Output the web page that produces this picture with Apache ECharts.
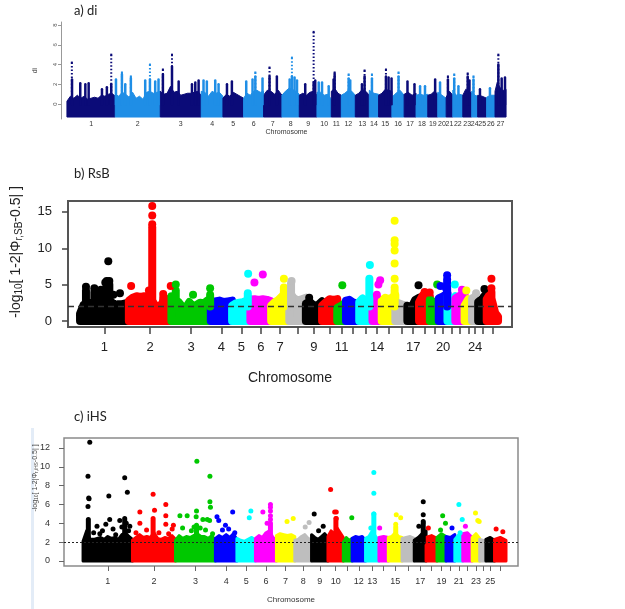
<!DOCTYPE html>
<html><head><meta charset="utf-8">
<script src="https://cdn.jsdelivr.net/npm/echarts@6/dist/echarts.min.js"></script>
<style>html,body{margin:0;padding:0;background:#fff}#c{width:625px;height:609px}</style>
</head><body><div id="c"></div>
<script>
// ---------- DATA ----------
// panel a) di
const chrNamesA = ['1','2','3','4','5','6','7','8','9','10','11','12','13','14','15','16','17','18','19','20','21','22','23','24','25','26','27'];
const chrLenA = [276,257,234,124,118,114,105,99,101,82,57,80,80,53,76,70,68,67,57,48,38,57,51,34,51,48,63];
// dense-cloud top per chromosome (evenly spaced along it)
const envA = [
  [0.3,0.8,0.6,0.9,0.6,0.8,0.5,0.6,0.7,0.6,0.9,0.8,1.0,1.1,0.8],
  [1.0,0.8,1.2,1.0,0.7,1.2,0.6,0.8,0.5,1.2,1.3,1.1,1.2,1.3],
  [1.3,1.0,1.1,1.8,1.2,1.3,0.9,1.0,1.1,1.1,1.2,1.3,0.9],
  [1.3,1.2,0.8,1.3,1.1,1.2,0.8],
  [0.6,1.0,0.8,1.2,1.0,0.8,0.6],
  [0.6,1.1,0.9,1.3,1.4,1.2,1.3],
  [0.9,1.4,1.3,1.0,1.4,0.9],
  [0.9,1.3,1.6,1.5,1.3,1.0],
  [0.9,1.1,0.9,1.2,1.3,0.9],
  [1.2,1.2,0.9,1.0,0.5],
  [1.3,1.6,1.1,0.9],
  [0.9,1.1,1.4,1.3,0.9],
  [0.9,1.1,1.5,1.3,0.9],
  [1.4,1.1,1.0],
  [0.9,1.1,1.5,1.4,1.3],
  [0.7,1.1,1.4,0.9],
  [1.0,1.2,0.9,1.1],
  [0.9,1.0,0.9,1.0],
  [0.9,1.0,1.3,1.0],
  [1.2,0.9,0.6],
  [0.7,1.3,0.9],
  [1.4,0.9,1.0,0.9],
  [0.9,1.5,1.3,1.1],
  [1.3,0.9,0.8],
  [0.9,0.8,0.6],
  [0.7,0.9,0.9],
  [1.3,2.2,1.8,1.4,1.4,1.5]
];
const floorA = -1.3;
// dense spikes [chromosome, position, top]
const spikesA = [[1,29,2.5],[1,76,2.1],[1,105,2.0],[1,124,2.1],[1,200,1.5],[1,228,1.7],[1,253,2.0],
  [2,4,2.5],[2,38,3.0],[2,57,2.0],[2,89,2.6],[2,171,2.4],[2,198,2.5],[2,228,2.3],[2,247,2.5],
  [3,15,3.0],[3,67,3.8],[3,105,2.3],[3,181,2.0],[3,200,2.2],[3,219,2.4],
  [4,13,2.4],[4,32,2.3],[4,80,2.4],[4,99,2.0],[5,23,2.0],[5,51,2.3],
  [6,15,2.3],[6,51,2.5],[6,67,2.8],[6,108,2.6],[7,34,2.8],[7,76,2.8],
  [8,44,2.5],[8,57,2.8],[8,72,2.7],[8,86,2.4],[9,34,2.0],[9,82,2.2],[9,91,2.4],
  [10,10,2.2],[10,29,2.2],[10,67,1.8],[11,13,2.5],[11,19,3.0],[12,42,2.6],[12,51,2.4],
  [13,38,2.0],[13,53,2.8],[14,15,2.6],[15,42,2.8],[15,57,2.7],[15,74,2.6],[16,38,2.8],
  [17,19,2.3],[17,59,2.0],[18,23,1.8],[18,51,1.8],[19,42,2.5],[20,13,2.2],[21,10,2.5],
  [22,8,2.6],[22,32,1.8],[23,28,2.8],[23,38,2.4],[24,10,2.5],[25,13,1.5],[26,19,1.6],
  [27,19,4.0],[27,38,2.6],[27,57,2.7]];
// sparse outliers [chromosome, position, di]
const peaksA = [[1,28,4.2],[1,253,5.0],[2,38,3.2],[2,89,2.8],[2,198,4.0],[3,15,3.5],[3,67,5.0],[6,67,3.2],[7,34,3.7],[8,57,4.7],[9,82,7.3],[11,19,3.2],[12,42,3.0],[13,53,3.4],[14,15,3.0],[15,42,3.5],[16,38,3.2],[21,10,2.8],[22,8,3.0],[23,28,3.1],[24,10,2.8],[27,19,5.0]];
const yTicksA = [0,2,4,6,8];

// panels b) RsB and c) iHS : chromosomes 1-26
const chrNamesBC = ['1','2','3','4','5','6','7','8','9','10','11','12','13','14','15','16','17','18','19','20','21','22','23','24','25','26'];
const chrLenBC = [280,244,226,122,105,119,104,95,93,87,50,76,76,53,78,69,67,62,51,50,45,53,43,35,49,65];

const envB = [
  [1.0,2.2,2.5,2.4,2.6,2.5,2.6,2.5,2.8,2.6,2.2,2.3,2.3,2.4,2.5],
  [2.8,3.2,3.4,3.3,3.4,2.6,2.8,2.0,1.9,2.8,3.0,2.2],
  [3.4,2.8,2.6,2.0,1.8,2.6,2.0,2.2,2.5,2.4,2.8,2.6],
  [2.4,2.7,2.8,2.6,2.7,2.8],
  [2.1,2.4,2.5,2.6,2.8,3.0],
  [2.9,3.0,2.9,3.0,2.9,2.7],
  [2.1,2.6,2.9,3.4,3.6,3.4],
  [4.0,3.2,2.8,3.0,3.2],
  [2.4,2.6,2.1,2.2,2.7],
  [2.1,2.6,3.0,2.9,3.0],
  [1.8,2.1,2.6],
  [2.8,2.9,2.6,2.4,2.2],
  [2.6,3.1,2.6,3.2,3.2],
  [2.6,3.0,3.0,2.8],
  [2.8,3.2,3.0,3.2,3.6],
  [2.6,2.4,2.2,2.1],
  [2.1,1.8,2.9,3.2],
  [2.6,3.5,3.1,3.4],
  [2.9,2.6,2.4],
  [3.1,3.4,3.8],
  [3.4,2.6,3.4],
  [3.1,3.5,3.8],
  [2.1,3.0,2.6],
  [3.1,3.3,2.6],
  [2.6,3.1,3.8],
  [3.0,3.6,2.6,1.1,0.6]
];
const spikesB = [[1,34,4.2],[1,82,4.0],[1,120,3.8],[1,153,5.0],[1,168,5.0],[2,134,12.9],[2,115,3.6],[2,197,3.2],
  [3,25,4.2],[3,222,3.6],[5,90,3.8],[7,73,4.6],[8,10,5.2],[13,58,5.8],[15,74,4.2],[20,48,5.3],[26,27,4.0]];
const outB = [[1,162,8.2],[1,153,5.5],[1,168,5.5],[1,145,5.3],[1,191,3.6],[1,229,3.8],[1,34,4.7],[1,82,4.5],[1,120,4.3],
  [2,13,4.8],[2,134,15.8],[2,134,14.5],[2,134,13.3],[2,115,4.2],[2,197,3.7],[2,240,4.8],
  [3,25,5.0],[3,124,3.6],[3,222,4.5],[5,92,6.5],[6,23,5.3],[6,71,6.4],[7,73,5.8],[8,13,5.5],[9,19,3.2],[11,29,4.9],
  [13,61,7.7],[14,34,5.0],[14,44,5.6],[14,25,3.6],
  [15,74,13.8],[15,74,11.1],[15,74,10.6],[15,74,9.7],[15,74,7.9],[15,74,5.8],[15,74,4.6],
  [17,64,4.9],[18,32,4.0],[18,61,3.9],[19,42,5.0],[20,10,4.8],[20,48,5.7],[20,48,6.3],[20,42,4.5],
  [21,42,5.0],[22,38,4.3],[23,10,4.2],[24,23,3.8],[25,36,4.4],[26,27,5.8],[26,27,4.5]];
const labelsB = [1,2,3,4,5,6,7,9,11,14,17,20,24];
const yTicksB = [0,5,10,15];
const thresholdB = 2;

const envC = [
  [2.1,3.2,2.3,2.3,2.4,2.5,2.3,2.6,2.4,2.5,2.3,2.8,3.0,2.6,2.3],
  [2.2,2.5,2.8,2.5,2.6,2.5,3.0,2.4,2.3,2.5,2.4,2.7,2.3],
  [2.2,2.7,2.4,2.6,2.5,2.7,2.9,2.6,2.6,2.4,2.7,2.2],
  [2.4,2.7,2.5,2.8,2.5,2.9,2.3],
  [2.4,2.2,2.1,2.3,2.5,2.2],
  [2.4,2.7,2.5,3.0,3.2,2.5,2.2],
  [2.7,2.9,2.8,2.7,2.8,2.6],
  [2.2,2.3,2.6,2.8,2.4,2.2],
  [2.8,2.5,2.3,2.6,2.9,2.5],
  [2.6,3.2,2.9,3.5,3.0,2.5],
  [2.0,2.5,2.2,2.4],
  [2.4,2.6,2.5,2.6,2.2],
  [2.4,2.6,3.2,2.6,2.2],
  [2.5,2.6,2.5],
  [2.5,2.6,3.0,2.6,2.5],
  [2.4,2.5,2.6,2.4],
  [2.2,2.5,2.9,3.2],
  [2.5,2.7,2.4],
  [2.5,2.9,2.6],
  [2.6,2.5,2.8],
  [2.3,2.8,2.5],
  [2.9,3.0,2.5],
  [2.5,2.9,2.4],
  [2.3,2.1],
  [2.3,2.5,2.2],
  [2.3,2.5,2.2]
];
const spikesC = [[1,30,4.4],[1,236,4.5],[2,117,4.3],[3,119,3.8],[6,85,4.0],[10,45,4.5],[13,47,5.0],[15,42,3.6],[17,51,4.0]];
const outC = [[1,38,12.6],[1,28,9.0],[1,32,6.7],[1,34,6.6],[1,28,5.8],[1,146,6.9],[1,236,8.85],[1,251,7.3],[1,79,3.7],[1,129,3.9],[1,151,4.4],[1,208,4.3],[1,265,3.7],
  [1,60,3.0],[1,95,2.9],[1,110,3.2],[1,170,3.4],[1,185,2.8],[1,220,3.6],[1,245,4.0],[1,258,3.2],
  [2,42,5.2],[2,42,4.0],[2,117,7.1],[2,125,5.4],[2,117,4.5],[2,189,6.0],[2,189,4.8],[2,189,3.9],[2,232,3.8],
  [2,20,3.0],[2,80,3.3],[2,150,3.0],[2,205,2.9],[2,225,3.4],
  [3,25,4.8],[3,66,4.8],[3,121,10.6],[3,119,5.3],[3,117,4.7],[3,155,4.4],[3,195,9.0],[3,195,6.3],[3,198,5.7],[3,193,4.3],[3,180,4.4],
  [3,40,3.5],[3,90,3.2],[3,105,3.6],[3,140,3.5],[3,170,3.3],[3,210,2.9],
  [4,9,4.7],[4,19,4.3],[4,98,5.2],[4,57,3.8],[4,40,3.3],[4,75,3.4],[4,110,3.0],[5,79,5.3],[5,70,4.6],
  [6,42,5.2],[6,85,6.0],[6,85,5.7],[6,85,5.3],[6,85,4.8],[6,85,4.4],[6,66,4.0],
  [7,60,4.2],[7,95,4.5],[8,81,4.1],[8,59,3.6],[9,15,5.0],[9,66,3.7],[9,40,3.2],
  [10,15,7.6],[10,38,5.2],[10,47,5.2],[10,47,4.5],[11,48,4.6],
  [13,47,9.4],[13,47,7.2],[13,47,5.0],[13,30,3.5],[14,4,3.5],[15,45,4.9],[15,70,4.6],[15,42,3.9],
  [17,51,6.3],[17,51,4.9],[17,51,4.2],[17,26,3.7],[18,13,3.5],[19,32,4.8],[19,48,4.0],[19,20,3.3],[20,34,3.5],
  [21,23,6.0],[21,42,4.4],[21,30,3.0],[22,15,3.7],[23,19,5.1],[23,32,4.3],[23,40,4.2],[26,9,3.4],[26,47,3.1]];
const labelsC = [1,2,3,4,5,6,7,8,9,10,12,13,15,17,19,21,23,25];
const yTicksC = [0,2,4,6,8,10,12];
const thresholdC = 2;

// ---------- STYLE ----------
const colorsA = ['#0b0b78','#1f8ee6'];
const colorsR = ['#000000','#ff0000','#00c800','#0000ff','#00ffff','#ff00ff','#ffff00','#bebebe'];
const sans = 'Liberation Sans';

function layoutOf(lens){ const starts=[]; let t=0; lens.forEach(l=>{starts.push(t); t+=l;}); return {starts, total:t, centers: lens.map((l,i)=>starts[i]+l/2)}; }
const LA = layoutOf(chrLenA), LB = layoutOf(chrLenBC);

function cloudSeries(idx, L, lens, env, floor, colors, lw){
  return {
    type:'custom', xAxisIndex:idx, yAxisIndex:idx, silent:true, z:2,
    encode:{x:[0,1]},
    data: lens.map((l,i)=>[L.starts[i], L.starts[i]+l, i]),
    renderItem(params, api){
      const s=api.value(0), e=api.value(1), i=api.value(2);
      const tops=env[i], n=tops.length;
      const pts=[api.coord([s,floor])];
      tops.forEach((t,k)=>pts.push(api.coord([s+(e-s)*(n===1?0.5:k/(n-1)), t])));
      pts.push(api.coord([e,floor]));
      const c=colors[i%colors.length];
      return {type:'polygon', shape:{points:pts}, style:{fill:c, stroke:c, lineWidth:lw, lineJoin:'round'}};
    }
  };
}
function columnSeries(idx, L, list, base, colors, lw){
  return {
    type:'custom', xAxisIndex:idx, yAxisIndex:idx, silent:true, z:2, encode:{x:0,y:1},
    data: list.map(p=>[L.starts[p[0]-1]+p[1], p[2], p[0]-1]),
    renderItem(params, api){
      const t=api.coord([api.value(0), api.value(1)]), b=api.coord([api.value(0), base]);
      const c=colors[api.value(2)%colors.length];
      return {type:'line', shape:{x1:t[0],y1:t[1],x2:b[0],y2:b[1]}, style:{stroke:c, lineWidth:lw, lineCap:'round'}};
    }
  };
}
function labelFmt(L, names){ return v => { const i=L.centers.findIndex(c=>Math.abs(c-v)<0.01); return i<0?'':names[i]; }; }
function subName(tag, fs, sfs, color){
  return {text:'{n|-log}{s|10}{n|[ 1-2|Φ}{s|'+tag+'}{n|-0.5| ]}',
    rich:{n:{fontSize:fs, fontFamily:sans, fill:color, color:color, verticalAlign:'middle'},
          s:{fontSize:sfs, fontFamily:sans, fill:color, color:color, verticalAlign:'bottom', padding:[Math.round(fs*0.45),0,0,0]}}};
}

const chart = echarts.init(document.getElementById('c'), null, {renderer:'canvas'});
const nb = subName('r,SB', 14, 10, '#222');
const nc = subName('r,iHS', 7, 5, '#444');
const noZero = {onZero:false};

const option = {
  animation:false,
  backgroundColor:'#fff',
  title:[
    {text:'a) di', left:74, top:4, padding:0, textStyle:{fontSize:13, fontWeight:'normal', fontFamily:'Lato', color:'#222'}},
    {text:'b) RsB', left:74, top:167, padding:0, textStyle:{fontSize:13, fontWeight:'normal', fontFamily:'Lato', color:'#222'}},
    {text:'c) iHS', left:74, top:410, padding:0, textStyle:{fontSize:13, fontWeight:'normal', fontFamily:'Lato', color:'#222'}}
  ],
  graphic:[
    {type:'rect', shape:{x:31, y:428, width:3, height:181}, style:{fill:'#e3ecf7'}, silent:true},
    {type:'text', x:16, y:252, rotation:Math.PI/2, silent:true,
      style:{text:nb.text, rich:nb.rich, align:'center', verticalAlign:'middle'}},
    {type:'text', x:35, y:478, rotation:Math.PI/2, silent:true,
      style:{text:nc.text, rich:nc.rich, align:'center', verticalAlign:'middle'}}
  ],
  grid:[
    {left:61, top:22, width:451, height:97, show:false},
    {left:68, top:201, width:444, height:126, show:true, borderColor:'#555', borderWidth:2},
    {left:64, top:438, width:454, height:128, show:true, borderColor:'#8a8a8a', borderWidth:1.5}
  ],
  xAxis:[
    {gridIndex:0, type:'value', min:-34, max:LA.total+34, axisLine:{show:false, onZero:false}, splitLine:{show:false},
      axisTick:{show:false},
      axisLabel:{customValues:LA.centers, formatter:labelFmt(LA, chrNamesA), fontSize:7, fontFamily:sans, color:'#333', margin:2},
      name:'Chromosome', nameLocation:'middle', nameGap:10, nameTextStyle:{fontSize:7, fontFamily:sans, color:'#333'}},
    {gridIndex:1, type:'value', min:-69, max:LB.total+80, axisLine:{show:false, onZero:false}, splitLine:{show:false},
      axisTick:{show:true, customValues:LB.centers, length:7, lineStyle:{color:'#444', width:1.5}},
      axisLabel:{customValues:labelsB.map(n=>LB.centers[n-1]), formatter:labelFmt(LB, chrNamesBC), fontSize:13, fontFamily:sans, color:'#222', margin:14},
      name:'Chromosome', nameLocation:'middle', nameGap:44, nameTextStyle:{fontSize:14, fontFamily:sans, color:'#222'}},
    {gridIndex:2, type:'value', min:-108, max:LB.total+68, axisLine:{show:false, onZero:false}, splitLine:{show:false},
      axisTick:{show:true, customValues:LB.centers, length:5, lineStyle:{color:'#666', width:1}},
      axisLabel:{customValues:labelsC.map(n=>LB.centers[n-1]), formatter:labelFmt(LB, chrNamesBC), fontSize:9, fontFamily:sans, color:'#333', margin:11},
      name:'Chromosome', nameLocation:'middle', nameGap:30, nameTextStyle:{fontSize:8, fontFamily:sans, color:'#333'}}
  ],
  yAxis:[
    {gridIndex:0, type:'value', min:-1.5, max:8.3, axisLine:{show:true, onZero:false, lineStyle:{color:'#999', width:1}}, splitLine:{show:false},
      axisTick:{show:true, customValues:yTicksA, length:3, lineStyle:{color:'#999'}},
      axisLabel:{customValues:yTicksA, rotate:90, fontSize:6, fontFamily:sans, color:'#555', margin:3},
      name:'di', nameLocation:'middle', nameGap:22, nameTextStyle:{fontSize:7, fontFamily:sans, color:'#444'}},
    {gridIndex:1, type:'value', min:-0.83, max:16.5, axisLine:{show:false, onZero:false}, splitLine:{show:false},
      axisTick:{show:true, customValues:yTicksB, length:6, lineStyle:{color:'#444', width:1.5}},
      axisLabel:{customValues:yTicksB, fontSize:13, fontFamily:sans, color:'#222', margin:16}},
    {gridIndex:2, type:'value', min:-0.53, max:13.06, axisLine:{show:false, onZero:false}, splitLine:{show:false},
      axisTick:{show:true, customValues:yTicksC, length:5, lineStyle:{color:'#666'}},
      axisLabel:{customValues:yTicksC, fontSize:9, fontFamily:sans, color:'#333', margin:14}}
  ],
  series:[
    {type:'custom', xAxisIndex:0, yAxisIndex:0, silent:true, z:1, encode:{x:0,y:1},
      data: peaksA.map(p=>[LA.starts[p[0]-1]+p[1], p[2], p[0]-1]),
      renderItem(params, api){
        const top=api.coord([api.value(0), api.value(1)]), base=api.coord([api.value(0), 1.2]);
        const c=colorsA[api.value(2)%2];
        return {type:'group', children:[
          {type:'line', shape:{x1:top[0], y1:top[1], x2:base[0], y2:base[1]}, style:{stroke:c, lineWidth:2, lineDash:[1.5,2]}},
          {type:'rect', shape:{x:top[0]-1, y:top[1]-1, width:2, height:2}, style:{fill:c}}
        ]};
      }},
    cloudSeries(0, LA, chrLenA, envA, floorA, colorsA, 1),
    columnSeries(0, LA, spikesA, 0, colorsA, 2.5),
    cloudSeries(1, LB, chrLenBC, envB, 0, colorsR, 8),
    columnSeries(1, LB, spikesB, 2, colorsR, 8),
    {type:'scatter', xAxisIndex:1, yAxisIndex:1, symbolSize:8, z:3, silent:true,
      data: outB.map(p=>[LB.starts[p[0]-1]+p[1], p[2], p[0]-1]),
      itemStyle:{opacity:1, color: p=>colorsR[p.data[2]%8]},
      markLine:{silent:true, symbol:'none', label:{show:false}, z:6,
        lineStyle:{color:'#333', type:[6,4], width:1.3}, data:[{yAxis:thresholdB}]}},
    cloudSeries(2, LB, chrLenBC, envC, 0, colorsR, 3),
    columnSeries(2, LB, spikesC, 2, colorsR, 5),
    {type:'scatter', xAxisIndex:2, yAxisIndex:2, symbolSize:5, z:3, silent:true,
      data: outC.map(p=>[LB.starts[p[0]-1]+p[1], p[2], p[0]-1]),
      itemStyle:{opacity:1, color: p=>colorsR[p.data[2]%8]},
      markLine:{silent:true, symbol:'none', label:{show:false}, z:6,
        lineStyle:{color:'#222', type:[2,2], width:1}, data:[{yAxis:thresholdC}]}}
  ]
};
chart.setOption(option);
</script></body></html>
